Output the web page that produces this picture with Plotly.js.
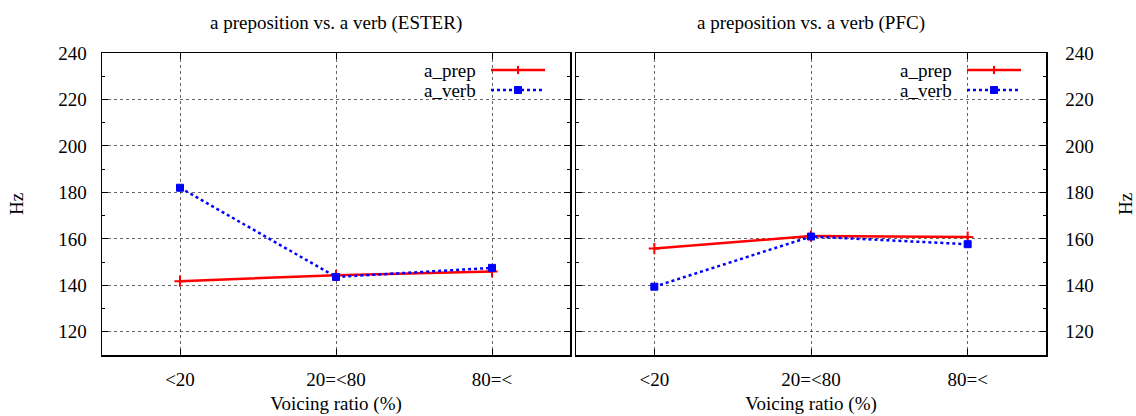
<!DOCTYPE html>
<html>
<head>
<meta charset="utf-8">
<script src="https://cdn.plot.ly/plotly-3.0.1.min.js"></script>
<style>html,body{margin:0;padding:0;background:#fff}#chart{width:1136px;height:416px}</style>
</head>
<body>
<div id="chart"></div>
<script>
// ---- data ----
const categories = ['<20', '20=<80', '80=<'];
const esterPrep = [141.8, 144.3, 145.9];
const esterVerb = [182.0, 143.6, 147.5];
const pfcPrep = [155.8, 161.2, 160.8];
const pfcVerb = [139.4, 161.0, 157.7];
const yTickVals = [120, 140, 160, 180, 200, 220, 240];
const seriesNames = ['a_prep', 'a_verb'];
const panelTitles = ['a preposition vs. a verb (ESTER)', 'a preposition vs. a verb (PFC)'];
const xTitle = 'Voicing ratio (%)';
const yTitle = 'Hz';

// ---- layout helpers ----
const W = 1136, H = 416;
const px = v => v / W;
const py = v => 1 - v / H;
const FONT = '"Liberation Serif", "DejaVu Serif", serif';
const FS = 19;
const RED = '#ff0000', BLUE = '#0000ff';
const panels = [{l: 102, r: 570}, {l: 576, r: 1046}];
const plotTop = 53, plotBottom = 355;

function mkTraces(prep, verb, xa, ya) {
  return [
    {x: categories, y: prep, xaxis: xa, yaxis: ya, type: 'scatter', mode: 'lines+markers',
     name: seriesNames[0], showlegend: false, cliponaxis: false,
     line: {color: RED, width: 2.5},
     marker: {symbol: 'cross-thin-open', size: 8, color: RED, line: {color: RED, width: 2}}},
    {x: categories, y: verb, xaxis: xa, yaxis: ya, type: 'scatter', mode: 'lines+markers',
     name: seriesNames[1], showlegend: false, cliponaxis: false,
     line: {color: BLUE, width: 2.5, dash: '3px,3px'},
     marker: {symbol: 'square', size: 7, color: BLUE, line: {color: BLUE, width: 1}}}
  ];
}

const data = [
  ...mkTraces(esterPrep, esterVerb, 'x', 'y'),
  ...mkTraces(pfcPrep, pfcVerb, 'x2', 'y2')
];

function xAxis(p, anchor) {
  return {
    domain: [px(p.l), px(p.r)], anchor: anchor, type: 'category', range: [-0.5, 2.5],
    showline: true, mirror: 'allticks', linecolor: '#000', linewidth: 1.5,
    ticks: 'inside', ticklen: 6, tickcolor: '#000', tickwidth: 1,
    showgrid: true, gridcolor: 'rgba(0,0,0,0.6)', griddash: 'dot', gridwidth: 1,
    zeroline: false, ticklabelstandoff: 7,
    tickfont: {family: FONT, size: FS, color: '#000'},
    title: {text: xTitle, font: {family: FONT, size: FS, color: '#000'}, standoff: 7}
  };
}
function yAxis(anchor, side) {
  return {
    domain: [py(plotBottom), py(plotTop)], anchor: anchor, side: side, range: [110, 240],
    tickmode: 'array', tickvals: yTickVals,
    showline: true, mirror: 'allticks', linecolor: '#000', linewidth: 1.5,
    ticks: 'inside', ticklen: 6, tickcolor: '#000', tickwidth: 1,
    minor: {dtick: 10, tick0: 110, ticks: 'inside', ticklen: 3, tickcolor: '#000', showgrid: false},
    showgrid: true, gridcolor: 'rgba(0,0,0,0.6)', griddash: 'dot', gridwidth: 1,
    zeroline: false, ticklabelstandoff: side === 'right' ? 14 : 10,
    tickfont: {family: FONT, size: FS, color: '#000'},
    title: {text: yTitle, font: {family: FONT, size: FS, color: '#000'}, standoff: 29}
  };
}

const shapes = [];
const annotations = [];
panels.forEach((p, i) => {
  annotations.push({text: panelTitles[i], xref: 'paper', yref: 'paper',
    x: px((p.l + p.r) / 2), y: py(23), xanchor: 'center', yanchor: 'middle',
    showarrow: false, font: {family: FONT, size: FS, color: '#000'}});
  shapes.push({type: 'rect', xref: 'paper', yref: 'paper', layer: 'between',
    x0: px(p.r - 163), x1: px(p.r - 11), y0: py(103), y1: py(60),
    fillcolor: '#fff', line: {width: 0}});
  const textEnd = p.r - 92, s0 = p.r - 79, s1 = p.r - 25, mk = p.r - 52;
  const rows = [70, 90];
  seriesNames.forEach((n, k) => {
    annotations.push({text: n, xref: 'paper', yref: 'paper', x: px(textEnd), y: py(rows[k]),
      xanchor: 'right', yanchor: 'middle', showarrow: false,
      font: {family: FONT, size: FS, color: '#000'}});
  });
  shapes.push({type: 'line', xref: 'paper', yref: 'paper', x0: px(s0), x1: px(s1), y0: py(rows[0]), y1: py(rows[0]),
    line: {color: RED, width: 2.5}});
  shapes.push({type: 'line', xref: 'paper', yref: 'paper', x0: px(mk), x1: px(mk), y0: py(rows[0] - 4), y1: py(rows[0] + 4),
    line: {color: RED, width: 2}});
  shapes.push({type: 'line', xref: 'paper', yref: 'paper', x0: px(s0), x1: px(s1), y0: py(rows[1]), y1: py(rows[1]),
    line: {color: BLUE, width: 2.5, dash: '3px,3px'}});
  shapes.push({type: 'rect', xref: 'paper', yref: 'paper', x0: px(mk - 3.5), x1: px(mk + 3.5), y0: py(rows[1] + 3.5), y1: py(rows[1] - 3.5),
    fillcolor: BLUE, line: {color: BLUE, width: 1}});
});

const layout = {
  width: W, height: H,
  margin: {l: 0, r: 0, t: 0, b: 0},
  paper_bgcolor: '#fff', plot_bgcolor: '#fff',
  font: {family: FONT, size: FS, color: '#000'},
  showlegend: false,
  xaxis: xAxis(panels[0], 'y'),
  yaxis: yAxis('x', 'left'),
  xaxis2: xAxis(panels[1], 'y2'),
  yaxis2: yAxis('x2', 'right'),
  shapes: shapes,
  annotations: annotations
};

Plotly.newPlot('chart', data, layout, {displayModeBar: false, staticPlot: true});
</script>
</body>
</html>
